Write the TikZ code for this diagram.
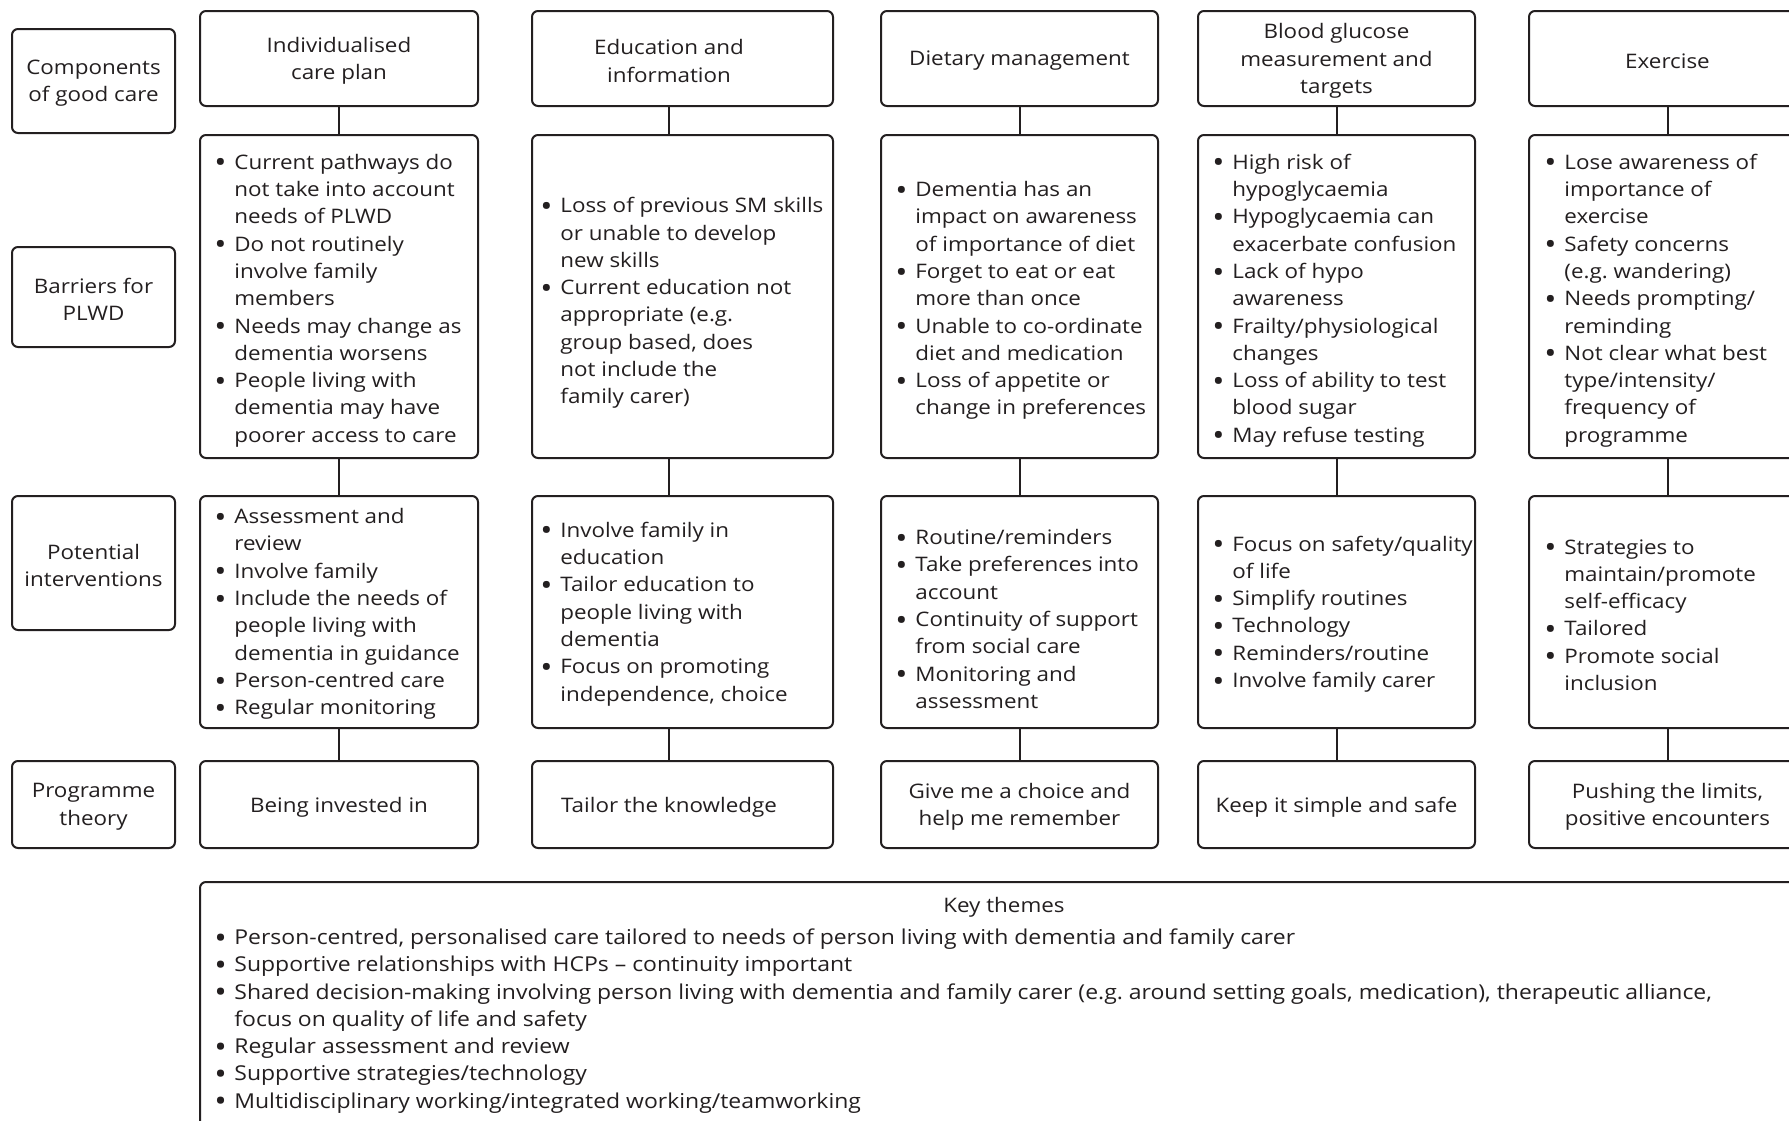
\documentclass[tikz,border=0pt]{standalone}
\usepackage{graphicx}
\usepackage{fontspec}
\setmainfont{Open Sans}[FakeStretch=1.12]
\usetikzlibrary{fit}
\definecolor{ink}{HTML}{231F20}
\frenchspacing
% bullet and hanging indent for list lines
\newcommand\bu{\makebox[10pt][l]{\raisebox{-1.8pt}{\scalebox{1.45}{\textbullet}}}}
\newcommand\ind{\hspace*{10pt}}
% rounded frame spanning two corners (pixel units)
\newcommand\cellbox[5]{\node[cell, fit={(#2,#3) (#4,#5)}] (#1) {};}

\begin{document}
\begin{tikzpicture}[x=0.5pt,y=-0.5pt,
  cell/.style={draw=ink, line width=1pt, rounded corners=3pt, inner sep=0pt},
  lbl/.style={align=center, text=ink, inner sep=0pt, yshift=-1.2pt, font=\fontsize{10}{13.65}\selectfont},
  lst/.style={align=left, anchor=west, text=ink, inner sep=0pt, yshift=-2pt, font=\fontsize{10}{13.65}\selectfont},
  link/.style={draw=ink, line width=1pt}]
\clip (0,0) rectangle (1789,1120);
\fill[white] (0,0) rectangle (1789,1120);

% column axes
\coordinate (k1) at (339,0);
\coordinate (k2) at (669,0);
\coordinate (k3) at (1019.5,0);
\coordinate (k4) at (1336.5,0);
\coordinate (k5) at (1667.5,0);

% row labels
\cellbox{l1}{12}{29}{175}{133}
\cellbox{l2}{12}{247}{175}{347}
\cellbox{l3}{12}{496}{175}{630}
\cellbox{l4}{12}{761}{175}{848}
\node[lbl] (l1t) at (l1) {Components\\of good care};
\node[lbl] (l2t) at (l2) {Barriers for\\PLWD};
\node[lbl] (l3t) at (l3) {Potential\\interventions};
\node[lbl] (l4t) at (l4) {Programme\\theory};

% frames: headers, barriers, interventions, programme theory
\cellbox{h1}{200}{11}{478}{106}
\cellbox{h2}{532}{11}{833}{106}
\cellbox{h3}{881}{11}{1158}{106}
\cellbox{h4}{1198}{11}{1475}{106}
\cellbox{h5}{1529}{11}{1806}{106}

\cellbox{b1}{200}{135}{478}{458}
\cellbox{b2}{532}{135}{833}{458}
\cellbox{b3}{881}{135}{1158}{458}
\cellbox{b4}{1198}{135}{1475}{458}
\cellbox{b5}{1529}{135}{1806}{458}

\cellbox{p1}{200}{496}{478}{728}
\cellbox{p2}{532}{496}{833}{728}
\cellbox{p3}{881}{496}{1158}{728}
\cellbox{p4}{1198}{496}{1475}{728}
\cellbox{p5}{1529}{496}{1806}{728}

\cellbox{t1}{200}{761}{478}{848}
\cellbox{t2}{532}{761}{833}{848}
\cellbox{t3}{881}{761}{1158}{848}
\cellbox{t4}{1198}{761}{1475}{848}
\cellbox{t5}{1529}{761}{1806}{848}

\cellbox{key}{200}{882}{1808}{1170}

% connectors down each column
\foreach \c in {1,...,5}{
  \draw[link] (h\c.south -| k\c) -- (b\c.north -| k\c);
  \draw[link] (b\c.south -| k\c) -- (p\c.north -| k\c);
  \draw[link] (p\c.south -| k\c) -- (t\c.north -| k\c);
}

% header texts
\node[lbl] (h1t) at (h1.center -| k1) {Individualised\\care plan};
\node[lbl] (h2t) at (h2.center -| k2) {Education and\\information};
\node[lbl] (h3t) at (h3.center -| k3) {Dietary management};
\node[lbl] (h4t) at (h4.center -| k4) {Blood glucose\\measurement and\\targets};
\node[lbl] (h5t) at (h5.center -| k5) {Exercise};

% barriers
\node[lst] (b1t) at (214,296.5) {\bu Current pathways do\\\ind not take into account\\\ind needs of PLWD\\
\bu Do not routinely\\\ind involve family\\\ind members\\
\bu Needs may change as\\\ind dementia worsens\\
\bu People living with\\\ind dementia may have\\\ind poorer access to care};
\node[lst] (b2t) at (540,299) {\bu Loss of previous SM skills\\\ind or unable to develop\\\ind new skills\\
\bu Current education not\\\ind appropriate (e.g.\\\ind group based, does\\\ind not include the\\\ind family carer)};
\node[lst] (b3t) at (895,296.5) {\bu Dementia has an\\\ind impact on awareness\\\ind of importance of diet\\
\bu Forget to eat or eat\\\ind more than once\\
\bu Unable to co-ordinate\\\ind diet and medication\\
\bu Loss of appetite or\\\ind change in preferences};
\node[lst] (b4t) at (1212,296.5) {\bu High risk of\\\ind hypoglycaemia\\
\bu Hypoglycaemia can\\\ind exacerbate confusion\\
\bu Lack of hypo\\\ind awareness\\
\bu Frailty/physiological\\\ind changes\\
\bu Loss of ability to test\\\ind blood sugar\\
\bu May refuse testing};
\node[lst] (b5t) at (1544,296.5) {\bu Lose awareness of\\\ind importance of\\\ind exercise\\
\bu Safety concerns\\\ind (e.g. wandering)\\
\bu Needs prompting/\\\ind reminding\\
\bu Not clear what best\\\ind type/intensity/\\\ind frequency of\\\ind programme};

% interventions
\node[lst] (p1t) at (214,610) {\bu Assessment and\\\ind review\\
\bu Involve family\\
\bu Include the needs of\\\ind people living with\\\ind dementia in guidance\\
\bu Person-centred care\\
\bu Regular monitoring};
\node[lst] (p2t) at (540,610) {\bu Involve family in\\\ind education\\
\bu Tailor education to\\\ind people living with\\\ind dementia\\
\bu Focus on promoting\\\ind independence, choice};
\node[lst] (p3t) at (895,615) {\bu Routine/reminders\\
\bu Take preferences into\\\ind account\\
\bu Continuity of support\\\ind from social care\\
\bu Monitoring and\\\ind assessment};
\node[lst] (p4t) at (1212,610) {\bu Focus on safety/quality\\\ind of life\\
\bu Simplify routines\\
\bu Technology\\
\bu Reminders/routine\\
\bu Involve family carer};
\node[lst] (p5t) at (1544,611) {\bu Strategies to\\\ind maintain/promote\\\ind self-efficacy\\
\bu Tailored\\
\bu Promote social\\\ind inclusion};

% programme theory
\node[lbl] (t1t) at (t1.center -| k1) {Being invested in};
\node[lbl] (t2t) at (t2.center -| k2) {Tailor the knowledge};
\node[lbl] (t3t) at (t3.center -| k3) {Give me a choice and\\help me remember};
\node[lbl] (t4t) at (t4.center -| k4) {Keep it simple and safe};
\node[lbl] (t5t) at (t5.center -| k5) {Pushing the limits,\\positive encounters};

% key themes
\node[lbl] (keyt) at (1004,905) {Key themes};
\node[lst, yshift=1pt, font=\fontsize{10.25}{13.65}\selectfont] (keyl) at (214,1019) {\bu Person-centred, personalised care tailored to needs of person living with dementia and family carer\\
\bu Supportive relationships with HCPs -- continuity important\\
\bu Shared decision-making involving person living with dementia and family carer (e.g. around setting goals, medication), therapeutic alliance,\\\ind focus on quality of life and safety\\
\bu Regular assessment and review\\
\bu Supportive strategies/technology\\
\bu Multidisciplinary working/integrated working/teamworking};
\end{tikzpicture}
\end{document}
